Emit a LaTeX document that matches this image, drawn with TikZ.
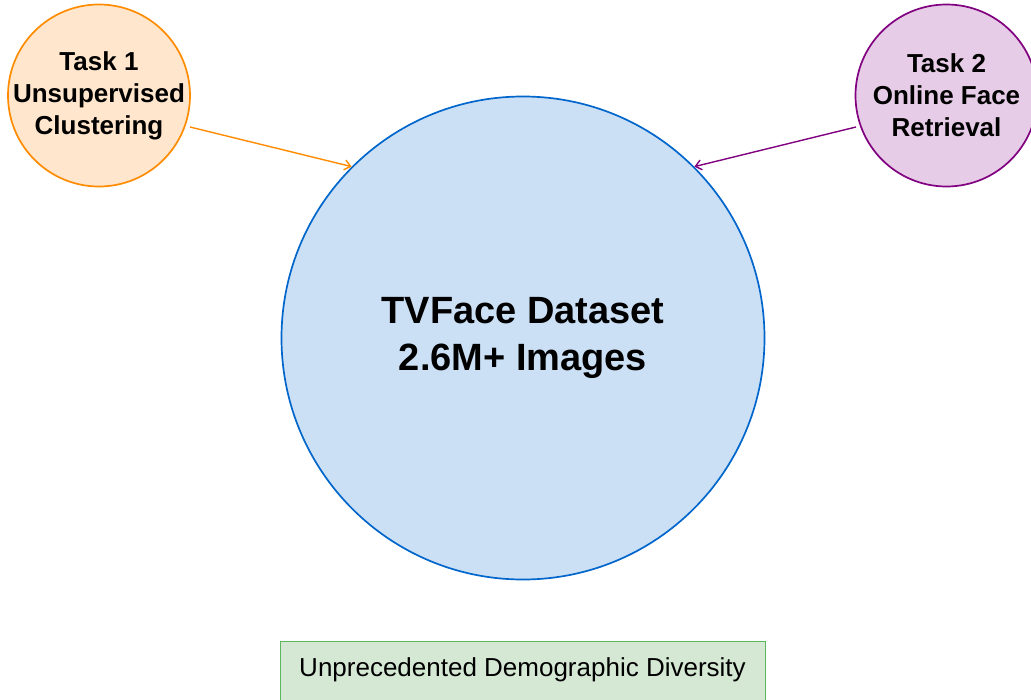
\documentclass[tikz,border=0pt]{standalone}
\usepackage{fontspec}
\setmainfont{Liberation Sans}
\usetikzlibrary{arrows.meta}
\definecolor{orfill}{HTML}{FFE6CC}
\definecolor{ordraw}{HTML}{FF8C00}
\definecolor{pufill}{HTML}{E6CCE6}
\definecolor{pudraw}{HTML}{800080}
\definecolor{blfill}{HTML}{CCE0F5}
\definecolor{bldraw}{HTML}{0066CC}
\definecolor{grfill}{HTML}{D5E8D4}
\definecolor{grdraw}{HTML}{5CB85C}
\tikzset{
  taskcirc/.style={circle, minimum size=182pt, inner sep=0pt, line width=1.7pt},
  tasktext/.style={align=center, inner sep=0pt, font=\fontsize{26}{32}\selectfont\bfseries},
  bigcirc/.style={circle, minimum size=483pt, inner sep=0pt, line width=1.7pt,
    draw=bldraw, fill=blfill},
  bigtext/.style={align=center, inner sep=0pt, font=\fontsize{38}{47}\selectfont\bfseries},
  conn/.style={line width=1.4pt, -{Straight Barb[length=6pt,width=10pt,line width=1.4pt]}},
}
\begin{document}
\begin{tikzpicture}[x=1pt,y=-1pt]
\useasboundingbox (0,0) rectangle (1031,699);
\node[bigcirc] (ds) at (523,338) {};
\node[bigtext] (dstext) at (ds.center) {TVFace Dataset\\2.6M+ Images};
\node[taskcirc, draw=ordraw, fill=orfill] (t1) at (99,95.5) {};
\node[tasktext] (t1text) at (t1.center) {Task 1\\Unsupervised\\Clustering};
\node[taskcirc, draw=pudraw, fill=pufill] (t2) at (946.5,95.5) {};
\node[tasktext] (t2text) at (t2.center) {Task 2\\Online Face\\Retrieval};
\node[draw=grdraw, fill=grfill, line width=1.4pt, minimum width=485pt, minimum height=80pt,
  anchor=north west, inner sep=0pt] (div) at (280,641) {};
\node[font=\fontsize{26}{32}\selectfont] (divtext) at (522.5,670) {Unprecedented Demographic Diversity};
\coordinate (a1) at (190,127);
\coordinate (b2) at (856,127);
\draw[conn, ordraw] (a1) -- (ds.135);
\draw[conn, pudraw] (b2) -- (ds.45);
\end{tikzpicture}
\end{document}
